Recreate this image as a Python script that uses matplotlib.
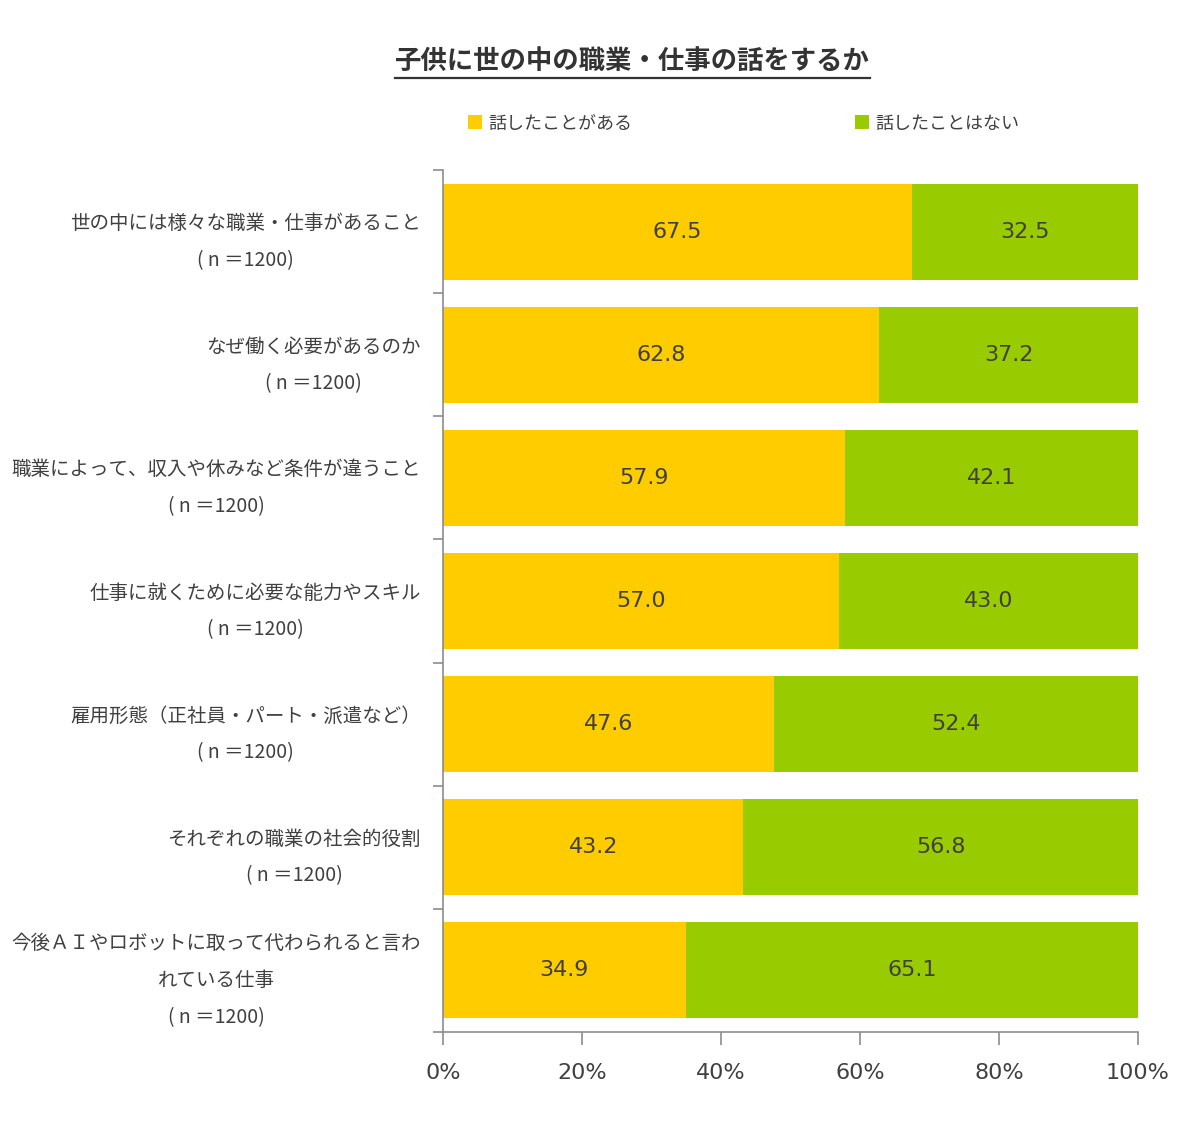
import matplotlib
matplotlib.use("Agg")
import matplotlib.pyplot as plt
from matplotlib.lines import Line2D
from matplotlib.patches import Patch

plt.rcParams["font.family"] = ["Noto Sans CJK JP", "DejaVu Sans"]

TXT = "#404040"
AXC = "#8c8c8c"
YELLOW = "#FFCC00"
GREEN = "#99CC00"

title = "子供に世の中の職業・仕事の話をするか"
series_names = ["話したことがある", "話したことはない"]
categories = [
    "世の中には様々な職業・仕事があること\n( n ＝1200)",
    "なぜ働く必要があるのか\n( n ＝1200)",
    "職業によって、収入や休みなど条件が違うこと\n( n ＝1200)",
    "仕事に就くために必要な能力やスキル\n( n ＝1200)",
    "雇用形態（正社員・パート・派遣など）\n( n ＝1200)",
    "それぞれの職業の社会的役割\n( n ＝1200)",
    "今後ＡＩやロボットに取って代わられると言わ\nれている仕事\n( n ＝1200)",
]
talked = [67.5, 62.8, 57.9, 57.0, 47.6, 43.2, 34.9]
not_talked = [32.5, 37.2, 42.1, 43.0, 52.4, 56.8, 65.1]
xticks = [0, 20, 40, 60, 80, 100]

fig = plt.figure(figsize=(12, 11.44), dpi=100)
ax = fig.add_axes([0.3692, 0.0983, 0.5791, 0.7527])

ypos = list(range(len(categories)))
b1 = ax.barh(ypos, talked, height=0.78, color=YELLOW, linewidth=0)
b2 = ax.barh(ypos, not_talked, left=talked, height=0.78, color=GREEN, linewidth=0)
for bars in (b1, b2):
    ax.bar_label(bars, labels=[f"{v:.1f}" for v in bars.datavalues], label_type="center",
                 fontsize=16, color=TXT, family="DejaVu Sans")

ax.set_xlim(0, 100)
ax.set_ylim(len(categories) - 0.5, -0.5)
ax.set_xticks(xticks)
ax.set_xticklabels([f"{v}%" for v in xticks], fontsize=16, color=TXT, family="DejaVu Sans")
ax.tick_params(axis="x", length=9, width=1.2, color=AXC, pad=14)

ax.set_yticks(ypos)
ax.set_yticklabels(categories, fontsize=14, color=TXT, linespacing=2.0,
                   multialignment="center")
ax.tick_params(axis="y", which="major", length=0, pad=16)
ax.set_yticks([i - 0.5 for i in range(len(categories) + 1)], minor=True)
ax.tick_params(axis="y", which="minor", length=7, width=1.2, color=AXC)

for s in ("top", "right"):
    ax.spines[s].set_visible(False)
for s in ("left", "bottom"):
    ax.spines[s].set_color(AXC)
    ax.spines[s].set_linewidth(1.2)

handles = [Patch(facecolor=YELLOW, edgecolor="none"), Patch(facecolor=GREEN, edgecolor="none")]
fig.legend(handles, series_names, loc="center left", bbox_to_anchor=(468 / 1200, 0.892),
           ncol=2, frameon=False, fontsize=13, handlelength=0.8, handleheight=0.8,
           handletextpad=0.35, columnspacing=12.3, borderpad=0, borderaxespad=0,
           labelcolor=TXT)

t = fig.text(0.527, 0.946, title, ha="center", va="center", fontsize=19,
             fontweight="bold", color="#333333")

# underline the title
fig.canvas.draw()
bb = t.get_window_extent()
W, H = fig.bbox.width, fig.bbox.height
yline = (bb.y0 - 3) / H
fig.add_artist(Line2D([bb.x0 / W, bb.x1 / W], [yline, yline], color="#333333",
                      linewidth=1.6, transform=fig.transFigure))

fig.savefig("out.png", dpi=100, facecolor="white")
